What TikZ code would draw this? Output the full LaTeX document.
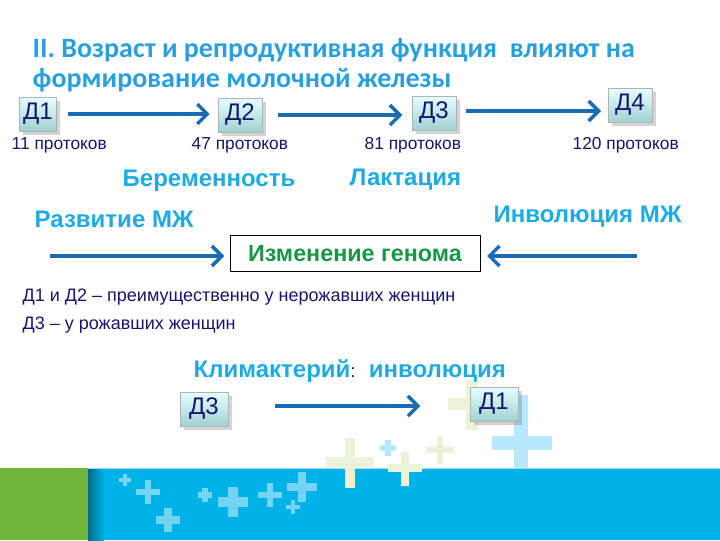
\documentclass[tikz,border=0pt]{standalone}
\usepackage{fontspec}
\setmainfont{Liberation Sans}
\newfontfamily\titlefont{Carlito}
\usetikzlibrary{arrows.meta, positioning, shadows}
\definecolor{titleblue}{RGB}{41,160,222}
\definecolor{lightblue}{RGB}{30,170,226}
\definecolor{navy}{RGB}{22,22,110}
\definecolor{arrowblue}{RGB}{24,108,178}
\definecolor{genegreen}{RGB}{24,150,72}
\definecolor{bandblue}{RGB}{0,178,232}
\definecolor{bandgreen}{RGB}{112,182,62}
\definecolor{paleplus}{RGB}{236,242,218}
\tikzset{
  dbox/.style={draw=gray!60, top color=cyan!10!white, bottom color=cyan!35!gray!55,
    minimum width=33pt, minimum height=25.5pt, inner sep=1pt, text=navy,
    font=\fontsize{18}{18}\selectfont, drop shadow={opacity=0.35}},
  flow/.style={arrowblue, line width=3.6pt,
    -{Straight Barb[length=7.5pt, width=15pt, line width=2.6pt]}},
  ducts/.style={anchor=west, text=navy, font=\fontsize{13}{13}\selectfont},
  phase/.style={anchor=west, text=lightblue, font=\bfseries\fontsize{18}{18}\selectfont},
  note/.style={anchor=west, text=navy, font=\fontsize{13.5}{14}\selectfont},
  cross/.style={line width=#1, line cap=butt},
}
\begin{document}
\begin{tikzpicture}[x=0.75pt, y=-0.75pt]
  \useasboundingbox (0,0) rectangle (720,540);
  % background decoration
  \fill[bandblue] (0,468) rectangle (720,540);
  \fill[bandgreen] (0,468) rectangle (88,540);
  \shade[left color=black!40!bandblue, right color=bandblue] (88,468) rectangle (104,540);
  \draw[white!60!bandblue, line width=1pt] (88,468.5) -- (720,468.5);
  \begin{scope}[paleplus]
    \draw[cross=8pt] (350,438) -- (350,488) (326,462) -- (374,462);
    \draw[cross=6pt] (405,452) -- (405,486) (388,468) -- (422,468);
    \draw[cross=5pt] (440,436) -- (440,464) (426,450) -- (454,450);
    \draw[cross=9pt] (472,380) -- (472,430) (448,404) -- (498,404);
  \end{scope}
  \begin{scope}[cyan!28!white]
    \draw[cross=5pt] (388,440) -- (388,456) (380,448) -- (396,448);
    \draw[cross=10pt] (521,395) -- (521,468) (492,443) -- (552,443);
  \end{scope}
  \begin{scope}[white!45!bandblue]
    \draw[cross=3pt] (125,474) -- (125,486) (119,480) -- (131,480);
    \draw[cross=5pt] (148,480) -- (148,504) (136,492) -- (160,492);
    \draw[cross=6pt] (168,508) -- (168,532) (156,520) -- (180,520);
    \draw[cross=4pt] (205,488) -- (205,502) (198,495) -- (212,495);
    \draw[cross=7pt] (233,487) -- (233,517) (218,502) -- (248,502);
    \draw[cross=5pt] (270,483) -- (270,507) (258,495) -- (282,495);
    \draw[cross=3pt] (293,500) -- (293,514) (286,507) -- (300,507);
    \draw[cross=6pt] (302,472) -- (302,502) (287,487) -- (317,487);
  \end{scope}
  % title
  \node[anchor=base west, text=titleblue, font=\titlefont\bfseries\fontsize{21}{21}\selectfont] (title1) at (28,57) {II. Возраст и репродуктивная функция~~влияют на};
  \node[anchor=base west, text=titleblue, font=\titlefont\bfseries\fontsize{21}{21}\selectfont] (title2) at (28,87) {формирование молочной железы};
  % stages
  \node[dbox, minimum width=28pt] (d1) at (38,114) {Д1};
  \node[dbox] (d2) at (240,115) {Д2};
  \node[dbox] (d3) at (434,113) {Д3};
  \node[dbox] (d4) at (630,105) {Д4};
  \draw[flow, shorten <=8pt, shorten >=6pt] (d1.east) -- (d1.east -| d2.west);
  \draw[flow, shorten <=12pt, shorten >=7pt] (d2.east) -- (d2.east -| d3.west);
  \draw[flow, shorten <=7pt, shorten >=5pt] (d3.east |- 0,111) -- (d4.west |- 0,111);
  \node[ducts] (n1) at (7,145) {11 протоков};
  \node[ducts] (n2) at (187,145) {47 протоков};
  \node[ducts] (n3) at (360,145) {81 протоков};
  \node[ducts] (n4) at (568,145) {120 протоков};
  \node[phase] (preg) at (118,181) {Беременность};
  \node[phase] (lact) at (345,180) {Лактация};
  \node[phase] (dev) at (30,219) {Развитие МЖ};
  \node[phase] (invol) at (489,217) {Инволюция МЖ};
  % genome
  \node[draw=black, line width=0.6pt, minimum width=187.5pt, minimum height=27.5pt,
    text=genegreen, font=\bfseries\fontsize{17.5}{17.5}\selectfont] (gene) at (355,253.5) {Изменение генома};
  \coordinate (devend) at (50,256);
  \coordinate (involend) at (637,256);
  \draw[flow, shorten >=4pt] (devend) -- (devend -| gene.west);
  \draw[flow, shorten >=5pt] (involend) -- (involend -| gene.east);
  \node[note] (note1) at (18,297) {Д1 и Д2 – преимущественно у нерожавших женщин};
  \node[note] (note2) at (18,325) {Д3 – у рожавших женщин};
  % climacteric
  \node[anchor=west, text=lightblue, font=\fontsize{18}{18}\selectfont] (clim) at (189,371)
    {\textbf{Климактерий}{\color{navy}\fontsize{14}{14}\selectfont:}~~\textbf{инволюция}};
  \node[dbox, minimum width=36pt] (d3b) at (204,409) {Д3};
  \node[dbox, minimum width=36pt] (d1b) at (494,404) {Д1};
  \draw[flow, shorten <=35pt, shorten >=37pt] (d3b.east |- 0,406) -- (d1b.west |- 0,406);
\end{tikzpicture}
\end{document}
